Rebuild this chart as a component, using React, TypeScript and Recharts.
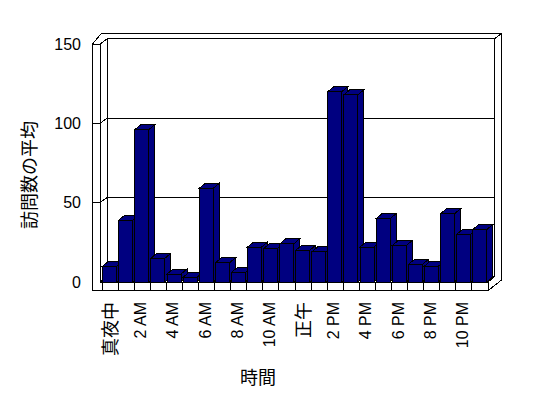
import { BarChart, Bar, XAxis, YAxis, CartesianGrid, Label } from 'recharts'

const hours = [
  '真夜中', '1 AM', '2 AM', '3 AM', '4 AM', '5 AM', '6 AM', '7 AM', '8 AM', '9 AM', '10 AM', '11 AM',
  '正午', '1 PM', '2 PM', '3 PM', '4 PM', '5 PM', '6 PM', '7 PM', '8 PM', '9 PM', '10 PM', '11 PM',
]
const visits = [10, 39, 96, 15, 5, 3, 59, 12, 6, 22, 21, 24, 20, 19, 120, 118, 22, 40, 23, 11, 10, 43, 30, 33]
const yTicks = [0, 50, 100, 150]

const data = hours.map((hour, i) => ({ hour, visits: visits[i] }))

const LATIN = "'Liberation Sans', Arial, sans-serif"
const CJK = "'Noto Sans CJK JP', sans-serif"
const BAR_FILL = '#000080'

// depth of the fake 3d box
const DX = 6.7
const DY = 5.3
const FLOOR = 8.7

function Bar3D(props: any) {
  const { x, y, width, height } = props
  if (width == null || height == null) return null
  const bx = x - 0.6
  const dx = 6
  const dy = 5
  return (
    <g stroke="#000" strokeWidth={1} fill={BAR_FILL} shapeRendering="crispEdges">
      <polygon
        points={`${bx + width},${y} ${bx + width + dx},${y - dy} ${bx + width + dx},${y + height - dy} ${bx + width},${y + height}`}
      />
      <polygon points={`${bx},${y} ${bx + dx},${y - dy} ${bx + width + dx},${y - dy} ${bx + width},${y}`} />
      <rect x={bx} y={y} width={width} height={height} />
    </g>
  )
}

// back wall gridlines + left wall ticks; the frame is drawn with the zero line
function WallLine(props: any) {
  const { x1, x2, y1, y, height, index } = props
  const L = x1
  const R = x2
  const T = y
  const B = y + height
  const yy = y1
  const isBase = Math.abs(yy - B) < 0.5
  const lines: [number, number, number, number][] = []
  if (!isBase) lines.push([L - 9.4, yy, L - 2, yy])
  lines.push([L - 2, yy, L - 2 + DX + 0.6, yy - DY])
  lines.push([L + 5.3, yy - DY, R + DX, yy - DY])
  if (isBase) {
    lines.push(
      [L - 2, B, R, B],
      [L - 9.4, B + FLOOR, R, B + FLOOR],
      [L - 9.4, T, L - 9.4, B + FLOOR],
      [L - 2, T, L - 2, B],
      [R, B, R, B + FLOOR],
      [R, B, R + DX, B - DY],
      [R, B + FLOOR, R + 2 * DX, B - 1.9],
      [L + 5.3, T - DY, L + 5.3, B - DY],
      [R + DX, T - DY, R + DX, B - DY],
      [R + 2 * DX, T - 2 * DY, R + 2 * DX, B - 1.9],
      [L - 0.7, T - 2 * DY, R + 2 * DX, T - 2 * DY],
      [L - 9.4, T, L - 0.7, T - 2 * DY],
      [R + DX, T - DY, R + 2 * DX, T - 2 * DY],
    )
  }
  return (
    <g key={`wall-${index}`} stroke="#000" strokeWidth={1} shapeRendering="crispEdges">
      {lines.map((l, i) => (
        <line key={i} x1={l[0]} y1={l[1]} x2={l[2]} y2={l[3]} />
      ))}
    </g>
  )
}

function HourTick(props: any) {
  const { x, y, payload, index } = props
  const half = payload?.offset || 8.05
  const left = x - half
  const label = String(payload.value)
  const isCjk = /[^\x00-\x7f]/.test(label)
  return (
    <g>
      <line x1={left} y1={y} x2={left} y2={y + FLOOR} stroke="#000" shapeRendering="crispEdges" />
      {index % 2 === 0 && (
        <text
          transform={`translate(${x - 1.5},${y + 20}) rotate(-90)`}
          textAnchor="end"
          dominantBaseline="central"
          fontSize={isCjk ? 18 : 16}
          fontFamily={isCjk ? CJK : LATIN}
          fill="#000"
        >
          {label}
        </text>
      )}
    </g>
  )
}

function CountTick(props: any) {
  const { x, y, payload } = props
  return (
    <text x={x} y={y} textAnchor="end" dominantBaseline="central" fontSize={16} fontFamily={LATIN} fill="#000">
      {payload.value}
    </text>
  )
}

export default function App() {
  return (
    <BarChart
      width={540}
      height={390}
      data={data}
      margin={{ top: 36, right: 60, bottom: 0, left: 0 }}
      barCategoryGap="8%"
    >
      <CartesianGrid vertical={false} horizontal={WallLine} />
      <XAxis
        dataKey="hour"
        interval={0}
        height={116}
        axisLine={false}
        tickLine={false}
        tickSize={0}
        tickMargin={0}
        tick={HourTick}
      >
        <Label
          content={(p: any) => {
            const vb = p.viewBox
            return (
              <text
                x={vb.x + vb.width / 2 - 37}
                y={vb.y + 94}
                textAnchor="middle"
                dominantBaseline="central"
                fontSize={18}
                fontFamily={CJK}
                fill="#000"
              >
                時間
              </text>
            )
          }}
        />
      </XAxis>
      <YAxis
        width={94}
        domain={[0, 150]}
        ticks={yTicks}
        axisLine={false}
        tickLine={false}
        tickSize={0}
        tickMargin={21}
        tick={CountTick}
      >
        <Label
          content={(p: any) => {
            const vb = p.viewBox
            const cx = vb.x + 20
            const cy = vb.y + vb.height / 2 + 12
            return (
              <text
                transform={`translate(${cx},${cy}) rotate(-90)`}
                textAnchor="middle"
                dominantBaseline="central"
                fontSize={18}
                fontFamily={CJK}
                fill="#000"
              >
                訪問数の平均
              </text>
            )
          }}
        />
      </YAxis>
      <Bar dataKey="visits" shape={Bar3D} isAnimationActive={false} />
    </BarChart>
  )
}
